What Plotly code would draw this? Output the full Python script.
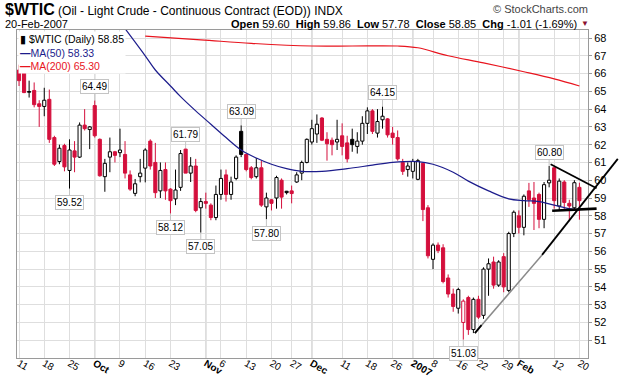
import plotly.graph_objects as go

# ---------------- data ----------------
# trading-day index 0 = 11-Sep-2006 ... 111 = 20-Feb-2007
opens = [66.2, 66.1, 64.98, 65.05, 64.3, 64.15, 64.55, 62.4, 61.05, 61.95,
         60.55, 61.65, 61.3, 63.1, 62.85, 64.2, 62.3, 60.2, 61.3, 61.6,
         61.55, 61.45, 60.3, 59.26, 60.2, 60.68, 62.2, 61.0, 59.4, 60.6,
         59.5, 58.95, 59.6, 61.75, 60.4, 60.8, 58.45, 58.8, 58.6, 57.9,
         59.2, 60.3, 59.2, 60.1, 62.75, 61.45, 60.7, 60.2, 60.7, 58.5,
         58.9, 59.0, 60.0, 59.38, 59.4, 59.9, 60.4, 61.0, 62.15, 62.6,
         63.5, 62.3, 62.25, 62.15, 62.5, 62.1, 62.3, 61.9, 62.2, 63.2,
         63.9, 62.65, 63.4, 63.45, 62.65, 62.4, 61.0, 60.6, 60.5, 60.05,
         60.95, 58.45, 55.55, 56.35, 56.2, 54.5, 53.6, 52.8, 52.0, 53.4,
         51.6, 53.3, 52.4, 55.0, 55.4, 54.1, 55.7, 53.8, 57.0, 58.0,
         57.35, 59.4, 59.0, 59.2, 57.8, 59.85, 60.7, 58.55, 59.9, 58.7,
         58.45, 59.60]
highs = [66.5, 66.2, 65.6, 65.5, 64.5, 65.2, 65.1, 62.5, 62.0, 62.05,
         62.3, 62.2, 63.25, 64.0, 63.05, 64.49, 62.35, 61.2, 62.4, 61.65,
         62.9, 62.2, 60.55, 60.07, 61.2, 61.8, 62.3, 62.1, 61.0, 61.0,
         59.55, 60.6, 61.7, 61.79, 61.3, 61.2, 59.0, 59.3, 58.7, 59.7,
         60.6, 60.6, 60.2, 61.4, 63.09, 61.5, 60.8, 61.25, 61.1, 59.3,
         58.95, 60.25, 60.1, 59.4, 59.7, 60.45, 61.1, 62.35, 63.4, 63.7,
         63.55, 62.7, 62.4, 63.4, 63.2, 62.5, 62.9, 62.7, 63.6, 64.1,
         64.0, 64.0, 64.15, 63.5, 63.0, 62.8, 61.2, 61.0, 61.2, 61.2,
         61.0, 58.6, 56.45, 56.5, 56.4, 54.7, 53.9, 53.95, 53.3, 53.5,
         53.4, 53.5, 55.1, 55.6, 55.7, 55.5, 55.9, 57.1, 58.3, 58.3,
         59.2, 59.85, 59.9, 59.3, 59.9, 60.80, 60.75, 60.1, 60.0, 58.9,
         60.0, 59.86]
lows = [65.3, 64.9, 64.65, 64.1, 63.0, 63.6, 62.1, 60.8, 60.9, 60.5,
        59.52, 60.45, 61.25, 62.8, 61.75, 62.4, 60.2, 59.35, 60.45, 61.0,
        61.3, 60.1, 59.4, 59.1, 59.88, 59.88, 60.6, 59.0, 59.0, 58.9,
        58.12, 58.6, 59.4, 60.4, 59.9, 58.2, 57.05, 58.4, 57.75, 57.75,
        58.9, 58.8, 58.9, 60.0, 61.3, 60.5, 60.05, 60.1, 58.5, 57.80,
        58.3, 58.4, 58.4, 59.2, 58.7, 59.85, 60.0, 60.95, 62.0, 62.1,
        62.2, 61.1, 61.4, 61.7, 61.4, 61.0, 61.6, 61.5, 62.0, 62.6,
        62.6, 62.4, 62.9, 62.4, 62.0, 61.1, 60.3, 60.2, 60.1, 60.0,
        57.7, 55.6, 55.0, 55.9, 54.2, 53.4, 52.6, 52.5, 51.03, 51.3,
        51.4, 52.2, 52.2, 53.5, 53.9, 54.0, 53.7, 53.7, 56.8, 57.0,
        56.9, 58.5, 57.2, 57.3, 57.3, 59.6, 58.4, 58.3, 58.3, 57.7,
        58.3, 57.78]
closes = [65.6, 64.93, 64.95, 64.25, 64.15, 64.5, 62.3, 60.9, 61.8, 60.75,
          61.7, 61.3, 63.1, 62.9, 63.0, 62.5, 60.25, 60.95, 61.6, 61.4,
          61.7, 60.4, 59.5, 59.8, 60.4, 61.7, 60.8, 59.3, 60.55, 59.4,
          58.85, 59.45, 61.5, 60.4, 60.8, 58.3, 58.8, 58.7, 57.9, 59.2,
          60.1, 59.2, 59.9, 61.3, 61.45, 60.6, 60.15, 60.7, 58.6, 59.0,
          58.7, 60.15, 59.05, 59.3, 59.25, 60.3, 61.0, 62.3, 62.9, 63.15,
          62.25, 62.05, 62.0, 62.3, 61.9, 61.2, 62.0, 62.2, 63.2, 63.9,
          62.75, 63.3, 63.6, 62.55, 62.4, 61.2, 60.5, 60.8, 61.05, 61.1,
          58.35, 55.75, 56.35, 56.05, 54.3, 53.6, 52.9, 53.85, 53.2, 51.6,
          53.3, 52.3, 55.0, 55.3, 54.1, 55.4, 54.0, 57.0, 58.2, 57.35,
          59.1, 58.9, 58.7, 57.8, 59.75, 60.0, 58.85, 59.95, 58.75, 58.55,
          59.86, 58.85]

# moving averages (index, value)
ma50_idx = [20, 22, 25, 27, 30, 32, 35, 38, 41, 44, 47, 50, 53, 56, 60, 65, 70, 74,
            79, 82, 86, 89, 93, 97, 100, 103, 106, 109, 111]
ma50_val = [68.9, 68.15, 67.0, 66.2, 65.3, 64.7, 63.9, 63.15, 62.4, 61.7, 61.25, 60.9,
            60.65, 60.5, 60.5, 60.65, 60.85, 61.0, 61.05, 60.9, 60.45, 59.95, 59.4,
            58.95, 58.85, 58.8, 58.6, 58.4, 58.33]
ma200_idx = [25, 36, 46, 58, 66, 75, 79, 85, 92, 100, 106, 111]
ma200_val = [68.1, 67.9, 67.7, 67.55, 67.55, 67.55, 67.45, 67.0, 66.6, 66.1, 65.7, 65.30]

# x-axis ticks
tick_idx = [0, 5, 10, 15, 20, 25, 30, 37, 40, 45, 50, 54, 58, 64, 69, 74, 78, 82, 87,
            91, 96, 99, 106, 111]
tick_lbl = ['11', '18', '25', 'Oct', '9', '16', '23', 'Nov', '6', '13', '20', '27', 'Dec',
            '11', '18', '26', '2007', '8', '16', '22', '29', 'Feb', '12', '20']
month_lbl = ['Oct', 'Nov', 'Dec', '2007', 'Feb']
y_ticks = list(range(51, 69))

# labelled highs / lows
lab_idx = [15, 10, 33, 30, 36, 44, 49, 72, 88, 105]
lab_val = [64.49, 59.52, 61.79, 58.12, 57.05, 63.09, 57.80, 64.15, 51.03, 60.80]
lab_up = [True, False, True, False, False, True, False, True, False, True]

# hand-drawn trend lines (index, value)
tl_gray = ([90.3, 103.6], [51.4, 55.8])
tl_tick = ([90.3, 91.6], [51.4, 51.85])
tl_up = ([103.6, 118.6], [55.8, 61.2])
tl_down = ([105.3, 114.4], [60.9, 59.55])
tl_flat = ([105.6, 114.4], [58.28, 58.4])

# ---------------- figure ----------------
RED = '#d40f3c'
NAVY = '#1c1c8c'
MARED = '#e8141e'
W, H = 620, 376
ML, MR, MT, MB = 17, 32, 30, 18
XR = [-0.4, 112.7]
YR = [50.0, 68.45]
FONT = 'Liberation Sans, Arial, sans-serif'

# StockCharts colouring: hollow if close>=open, black if close>=previous close
fills, lines = [], []
for i in range(len(closes)):
    prev = closes[i - 1] if i > 0 else opens[i]
    col = 'black' if closes[i] >= prev else RED
    lines.append(col)
    fills.append('white' if closes[i] >= opens[i] else col)

fig = go.Figure()

# wicks (split above / below the body so hollow bodies stay clean)
for col in ['black', RED]:
    wx, wy = [], []
    for i in range(len(closes)):
        if lines[i] != col:
            continue
        top = max(opens[i], closes[i])
        bot = min(opens[i], closes[i])
        wx += [i, i, None, i, i, None]
        wy += [highs[i], top, None, bot, lows[i], None]
    fig.add_trace(go.Scatter(x=wx, y=wy, mode='lines', line=dict(color=col, width=1),
                             showlegend=False, hoverinfo='skip'))

# bodies
base = [min(o, c) for o, c in zip(opens, closes)]
hgt = [max(abs(c - o), 0.04) for o, c in zip(opens, closes)]
fig.add_trace(go.Bar(x=list(range(len(closes))), y=hgt, base=base, width=0.62,
                     marker=dict(color=fills, line=dict(color=lines, width=1)),
                     showlegend=False, hoverinfo='skip'))

fig.add_trace(go.Scatter(x=ma50_idx, y=ma50_val, mode='lines',
                         line=dict(color=NAVY, width=1.2, shape='spline'),
                         showlegend=False, hoverinfo='skip'))
fig.add_trace(go.Scatter(x=ma200_idx, y=ma200_val, mode='lines',
                         line=dict(color=MARED, width=1.2, shape='spline'),
                         showlegend=False, hoverinfo='skip'))


def px_x(v):
    return (v - XR[0]) / (XR[1] - XR[0])


def px_y(v):
    return (v - YR[0]) / (YR[1] - YR[0])


shapes = []
for t, l in zip(tick_idx, tick_lbl):
    if l in month_lbl:
        shapes.append(dict(type='line', xref='x', yref='paper', x0=t, x1=t, y0=0, y1=1,
                           line=dict(color='#a8a8a8', width=1), layer='below'))
for (xs, ys), col, wd in [(tl_gray, '#8a8a8a', 1.5), (tl_tick, 'black', 1.8),
                          (tl_up, 'black', 1.8),
                          (tl_down, 'black', 1.8), (tl_flat, 'black', 2.6)]:
    shapes.append(dict(type='line', xref='paper', yref='paper',
                       x0=px_x(xs[0]), x1=px_x(xs[1]), y0=px_y(ys[0]), y1=px_y(ys[1]),
                       line=dict(color=col, width=wd), layer='above'))

ann = []
for i, v, up in zip(lab_idx, lab_val, lab_up):
    ann.append(dict(x=i, y=v, xref='x', yref='y', text='%.2f' % v, showarrow=True,
                    arrowhead=0, arrowwidth=1, arrowcolor='#c4c4c4', ax=0,
                    ay=-14 if up else 14, standoff=0,
                    font=dict(size=10, color='black', family=FONT),
                    bgcolor='white', bordercolor='#c4c4c4', borderwidth=1, borderpad=1))

PW = W - ML - MR
PH = H - MT - MB


def fx(p):
    return (p - ML) / PW


def fy(p):
    return (H - MB - p) / PH


ann += [
    dict(x=fx(3), y=fy(10), xref='paper', yref='paper', xanchor='left', yanchor='middle',
         showarrow=False,
         text='<b><span style="font-size:16px">$WTIC</span></b> (Oil - Light Crude - Continuous Contract (EOD)) INDX',
         font=dict(size=12, color='black', family=FONT)),
    dict(x=fx(590), y=fy(9), xref='paper', yref='paper', xanchor='right', yanchor='middle',
         showarrow=False, text='© StockCharts.com',
         font=dict(size=11, color='#444444', family=FONT)),
    dict(x=fx(3), y=fy(24), xref='paper', yref='paper', xanchor='left', yanchor='middle',
         showarrow=False, text='20-Feb-2007',
         font=dict(size=11, color='black', family=FONT)),
    dict(x=fx(579), y=fy(24), xref='paper', yref='paper', xanchor='right', yanchor='middle',
         showarrow=False,
         text='<b>Open</b> 59.60  <b>High</b> 59.86  <b>Low</b> 57.78  <b>Close</b> 58.85  <b>Chg</b> -1.01 (-1.69%)',
         font=dict(size=11, color='black', family=FONT)),
    dict(x=fx(585), y=fy(24), xref='paper', yref='paper', xanchor='center', yanchor='middle',
         showarrow=False, text='▼', font=dict(size=8, color='#8b1030', family=FONT)),
    dict(x=fx(17.5), y=fy(31), xref='paper', yref='paper', xanchor='left', yanchor='top',
         align='left', showarrow=False, bgcolor='white',
         text=('▮ $WTIC (Daily) 58.85<br>'
               '<span style="color:%s"><b>—</b>MA(50) 58.33</span><br>'
               '<span style="color:%s"><b>—</b>MA(200) 65.30</span>') % (NAVY, MARED),
         font=dict(size=10.5, color='black', family=FONT)),
]

ticktext = ['<b>%s</b>' % t if t in month_lbl else t for t in tick_lbl]

fig.update_layout(
    template='none',
    width=W, height=H, margin=dict(l=ML, r=MR, t=MT, b=MB, pad=0, autoexpand=False),
    paper_bgcolor='white', plot_bgcolor='white', barmode='overlay',
    shapes=shapes, annotations=ann, showlegend=False,
    font=dict(family=FONT, size=10, color='black'),
    xaxis=dict(range=XR, tickmode='array', tickvals=tick_idx, ticktext=ticktext,
               automargin=False, ticklabelstandoff=-5,
               showgrid=True, gridcolor='#dedede', gridwidth=1, zeroline=False,
               showline=True, linecolor='#9a9a9a', mirror=True, ticks='',
               tickfont=dict(size=10, color='black', family=FONT), fixedrange=True),
    yaxis=dict(range=YR, side='right', tickmode='array', tickvals=y_ticks,
               automargin=False,
               showgrid=True, gridcolor='#dedede', gridwidth=1, zeroline=False,
               showline=True, linecolor='#9a9a9a', mirror=True, ticks='outside',
               ticklen=3, tickcolor='#9a9a9a',
               tickfont=dict(size=11, color='black', family=FONT), fixedrange=True),
)

fig.write_html('out.html', config={'displayModeBar': False},
               post_script="document.body.style.margin='0px';document.body.style.overflow='hidden';")
